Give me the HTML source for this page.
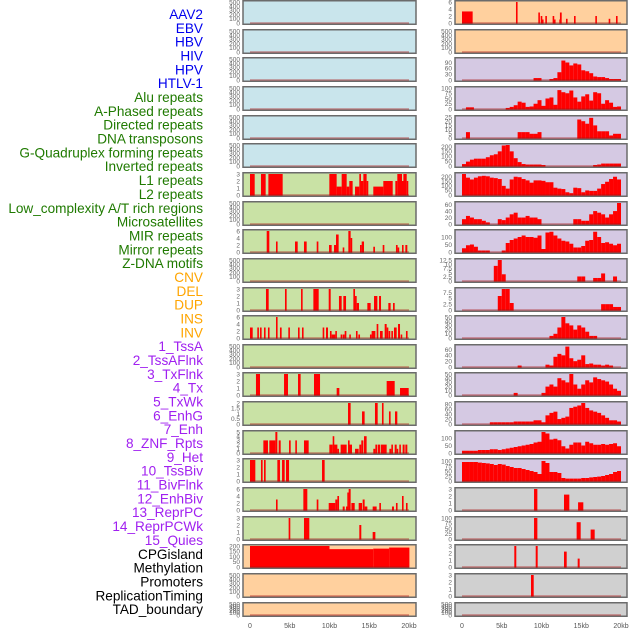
<!DOCTYPE html>
<html><head><meta charset="utf-8">
<style>
html,body{margin:0;padding:0;background:#fff;}
#wrap{position:relative;width:630px;height:630px;overflow:hidden;}
svg{position:absolute;left:0;top:0;}
</style></head>
<body>
<div id="wrap">
<svg id="chart" width="630" height="630"></svg>
</div>
<script>
// ---------- labels ----------
const trackLabels = ["AAV2","EBV","HBV","HIV","HPV","HTLV-1","Alu repeats","A-Phased repeats","Directed repeats","DNA transposons","G-Quadruplex forming repeats","Inverted repeats","L1 repeats","L2 repeats","Low_complexity A/T rich regions","Microsatellites","MIR repeats","Mirror repeats","Z-DNA motifs","CNV","DEL","DUP","INS","INV","1_TssA","2_TssAFlnk","3_TxFlnk","4_Tx","5_TxWk","6_EnhG","7_Enh","8_ZNF_Rpts","9_Het","10_TssBiv","11_BivFlnk","12_EnhBiv","13_ReprPC","14_ReprPCWk","15_Quies","CPGisland","Methylation","Promoters","ReplicationTiming","TAD_boundary"];
const labelGroups = ["virus","virus","virus","virus","virus","virus","repeat","repeat","repeat","repeat","repeat","repeat","repeat","repeat","repeat","repeat","repeat","repeat","repeat","sv","sv","sv","sv","sv","chrom","chrom","chrom","chrom","chrom","chrom","chrom","chrom","chrom","chrom","chrom","chrom","chrom","chrom","chrom","other","other","other","other","other"];
const xTickKb = [0,5,10,15,20];
const xTickLabels = ["0","5kb","10kb","15kb","20kb"];

// ---------- axis maxima & ticks per panel (left col rows 1..22, right col rows 1..22) ----------
const T500 = [0,100,200,300,400,500];
const leftTicks = [T500,T500,T500,T500,T500,T500,[0,1,2,3],T500,[0,2,4,6],T500,[0,1,2,3],[0,2,4,6],T500,[0,1,2,3],[0,0.5,1,1.5,2],[0,1,2,3,4,5],[0,1,2,3],[0,2,4,6],[0,1,2,3],[0,50,100,150,200],T500,T500];
const leftMax = [500,500,500,500,500,500,3,500,6,500,3,6,500,3,2,5,3,6,3,200,500,500];
const rightTicks = [[0,2,4,6],T500,[0,30,60,90],[0,25,50,75,100],[0,5,10,15,20,25],[0,50,100,150,200],[0,50,100,150,200],[0,20,40,60],[0,50,100],[0,2.5,5,7.5,10,12.5],[0,2.5,5,7.5],[0,10,20,30,40,50],[0,20,40,60],[0,10,20,30,40,50],[0,20,40,60,80],[0,50,100],[0,25,50,75,100],[0,1,2,3],[0,25,50,75,100],[0,1,2,3],[0,1,2,3],T500];
const rightMax = [6,500,108,100,25,215,230,65,140,12.5,9,50,72,50,85,140,105,3,100,3,3,500];

// ---------- segment data [startKb, endKb, value] ----------
const leftSegs = {
 7: [[0,0.59,3],[1.38,1.97,3],[2.31,4.11,3],[9.98,10.9,3],[10.9,11.53,1.2],[11.53,12.16,3],[12.16,12.49,1.2],[12.49,12.91,2],[13.21,13.75,1.2],[13.75,13.96,3],[13.96,14.26,2],[14.26,14.67,3],[14.67,14.88,2],[15.51,16.77,1.2],[16.77,17.95,2],[18.28,18.53,2],[18.53,19.12,3],[19.12,19.29,2],[19.29,19.71,3],[19.71,19.83,2]],
 9: [[2.10,2.43,6],[3.27,3.44,3],[5.66,6.00,3],[6.79,7.13,3],[8.39,8.60,3],[9.94,10.27,2],[10.57,10.82,2],[10.82,11.15,5],[11.66,11.82,1.3],[12.37,12.66,6],[12.66,12.79,4],[13.84,14.05,2],[14.05,14.34,3],[15.51,15.72,1.5],[16.69,16.90,2],[18.36,18.57,2],[18.57,18.70,1.3],[19.12,19.29,2],[19.54,19.79,2]],
 11: [[2.01,2.35,3],[4.40,4.61,3],[6.42,6.62,3],[7.97,8.64,3],[9.90,10.15,3],[11.19,11.53,2],[11.74,12.08,2],[13.00,13.21,3],[13.21,13.42,2],[13.42,13.71,1],[14.76,15.18,1],[15.60,16.02,2],[16.23,16.48,2],[17.40,17.69,1],[17.99,18.20,1]],
 12: [[0,0.34,3],[0.92,1.09,3],[1.26,1.43,3],[1.76,1.93,3],[2.26,2.43,3],[3.27,3.40,6],[3.77,3.98,3],[4.82,4.99,3],[6.04,6.21,3],[6.54,6.67,3],[9.14,9.31,3],[9.56,9.81,3],[10.06,10.23,2],[10.27,10.73,1],[10.73,10.90,2],[11.40,11.57,1],[11.66,11.91,1],[11.91,12.12,2],[12.49,12.66,1],[13.33,13.50,2],[13.63,13.84,1],[15.09,15.30,1],[15.30,15.77,2],[15.93,16.14,4],[16.35,16.69,2],[16.94,17.19,4],[17.19,17.40,3],[17.44,17.61,2],[17.78,17.95,2],[18.11,18.45,3],[18.62,18.87,4],[18.95,19.12,1],[19.62,19.79,2]],
 14: [[0.75,1.26,3],[4.28,4.78,3],[6.04,6.37,3],[8.05,8.81,3],[10.90,11.24,1],[17.19,18.20,2],[18.87,19.96,1]],
 15: [[12.33,12.66,2],[14.09,14.42,1.2],[15.72,16.06,2],[16.60,16.77,2],[17.48,17.69,1.2],[18.24,18.53,1.2]],
 16: [[1.68,2.26,3],[2.43,3.19,3],[3.19,3.44,5],[3.61,3.86,3],[4.91,5.12,3],[5.70,5.87,3],[6.79,7.38,3],[9.98,10.40,2],[10.40,10.57,4],[10.57,10.99,2],[10.99,11.15,1],[11.40,12.16,2],[12.33,12.49,3],[12.49,12.83,2],[13.21,13.67,1],[13.75,14.00,2],[14.00,14.26,3],[14.34,14.67,4],[15.51,15.77,1],[15.77,16.02,2],[16.10,16.35,2],[16.44,17.19,2],[17.53,17.78,1],[17.78,17.95,2],[18.20,18.45,2],[18.45,18.62,1],[18.78,18.95,2],[19.20,19.45,2],[19.54,19.79,2]],
 17: [[0,0.67,3],[1.38,1.59,3],[1.76,1.97,3],[3.44,3.77,3],[4.03,4.36,3],[4.53,4.91,3],[9.06,9.39,3]],
 18: [[3.27,3.44,3],[6.71,7.21,6],[8.39,8.60,3],[9.90,10.73,2],[10.73,10.99,3],[10.99,11.20,4],[11.66,11.91,1],[12.08,12.24,1],[12.24,12.41,5],[12.41,12.66,6],[12.75,13.17,2],[13.67,14.09,2],[14.17,14.42,3],[14.42,14.76,1],[15.43,15.93,1],[16.27,16.44,2],[17.86,18.11,1],[18.36,18.53,2],[19.12,19.29,4],[19.62,19.79,2]],
 19: [[4.86,5.07,3],[6.79,7.46,3],[13.75,14.00,2],[15.43,15.77,1]],
 20: [[0,10,200],[10,15.5,170],[15.5,17.5,175],[17.5,20.05,185]]
};
const rightSegs = {
 1: [[0,1.34,3.3],[6.79,6.96,6],[9.6,9.73,3],[9.9,10.06,2],[10.06,10.19,1],[10.48,10.65,2],[11.4,11.57,2],[11.57,11.74,1],[12.24,12.32,1],[12.32,12.54,3],[13.08,13.25,1.2],[14.09,14.26,2],[16.77,16.94,2],[18.45,18.62,1.2],[19.37,19.54,2]],
 18: [[9.06,9.48,3],[12.83,13.5,2.2],[14.6,15.26,1.1]],
 19: [[9.06,9.48,100],[14.42,14.93,80],[16.18,16.69,45]],
 20: [[6.58,6.83,3],[9.27,9.52,3],[12.83,13.17,2.2],[14.55,14.8,1.2]],
 21: [[8.68,9.02,3]]
};

// ---------- binned data (0.5 kb bins, 40 per track) ----------
const right3Bins  = [0,0,0,0,0,0,0,0,0,0,0,0,0,0,0,0,0,0,10,10,0,0,5,10,40,100,90,75,85,80,50,45,35,18,15,15,10,5,5,5];
const right4Bins  = [0,8,8,0,0,0,0,0,0,0,0,5,10,18,35,30,10,12,25,42,15,50,55,20,90,80,75,88,55,35,60,70,40,80,75,25,42,30,10,12];
const right5Bins  = [0,7,0,0,0,0,0,0,0,0,0,0,0,0,7,7,7,5,5,7,0,0,0,0,0,0,0,0,0,22,20,17,24,15,8,8,8,3,5,5];
const right6Bins  = [20,45,65,75,75,75,90,110,120,150,210,215,150,80,40,20,15,15,15,15,10,0,0,0,0,0,0,0,0,0,0,0,0,10,15,25,25,25,25,25];
const right7Bins  = [230,190,170,190,205,210,205,190,185,175,100,70,170,200,195,175,160,135,160,160,155,140,140,80,70,65,30,20,80,75,30,50,45,45,70,120,145,175,200,170];
const right8Bins  = [15,25,20,15,15,10,5,0,0,15,12,20,30,35,20,20,25,20,20,15,0,0,0,0,0,0,0,0,15,15,10,10,30,40,35,30,20,30,40,65];
const right9Bins  = [25,45,50,35,10,10,10,0,0,0,10,60,80,90,100,110,100,100,95,110,20,130,135,110,90,75,70,55,30,30,40,75,80,135,100,60,65,55,45,55];
const right10Bins = [0,0,0,0,0,0,0,0,9,12.5,4,0,0,0,0,0,0,0,0,0,0,0,0,0,0,0,0,0,0,2.7,2.7,0,0,1.8,1.8,4.5,0,0,2.7,0];
const right11Bins = [0,0,0,0,0,0,0,0,0,6,9,9,3,0,0,0,0,0,0,0,0,0,0,0,0,0,0,0,0,0,0,0,0,0,0,2.5,2.5,2.5,1.3,1.3];
const right12Bins = [0,0,0,0,0,0,0,0,0,0,0,0,0,0,0,0,0,0,0,0,0,0,5,10,25,50,35,30,20,30,25,15,5,5,0,0,0,0,0,0];
const right13Bins = [0,0,0,0,0,0,0,0,0,0,0,0,0,0,5,0,0,0,0,0,0,8,5,35,45,40,70,30,20,25,40,10,12,8,8,5,8,5,0,0];
const right14Bins = [0,0,0,0,0,0,0,0,0,0,0,0,0,5,0,0,0,0,0,0,5,20,25,20,40,35,30,50,25,15,25,35,30,42,38,35,32,25,15,10];
const right15Bins = [0,0,0,0,0,0,0,7,7,7,7,7,7,10,10,10,10,10,15,15,7,35,45,50,20,25,30,65,70,75,85,65,55,50,45,35,25,15,15,10];
const right16Bins = [15,15,15,15,20,20,20,25,25,20,25,30,35,40,45,50,55,60,70,75,140,130,90,95,85,45,30,55,70,70,50,75,65,55,55,60,55,60,65,45];
const right17Bins = [95,95,95,95,92,90,88,85,80,85,82,75,70,65,65,60,55,50,45,35,100,90,45,45,40,15,12,12,12,12,15,15,18,20,22,25,30,35,45,50];
const rightBins = {3:right3Bins,4:right4Bins,5:right5Bins,6:right6Bins,7:right7Bins,8:right8Bins,9:right9Bins,10:right10Bins,11:right11Bins,12:right12Bins,13:right13Bins,14:right14Bins,15:right15Bins,16:right16Bins,17:right17Bins};

// ---------- drawing ----------
const NS = "http://www.w3.org/2000/svg";
const svg = document.getElementById("chart");
function mk(tag, attrs, parent){ const e=document.createElementNS(NS,tag); for(const k in attrs) e.setAttribute(k,attrs[k]); (parent||svg).appendChild(e); return e; }

const labelColor = {virus:"#0000ee", repeat:"#1f7a00", sv:"#ffa500", chrom:"#a020f0", other:"#000000"};
trackLabels.forEach((t,i)=>{
  const el = mk("text",{x:203,y:19+i*13.84,"text-anchor":"end","font-family":"Liberation Sans, sans-serif","font-size":"13.6",fill:labelColor[labelGroups[i]]});
  el.textContent = t;
  
  
});

const colFrameX = [243,455];
const colFrameW = [173,172];
const colX0 = [250,462];
const pxPerKb = 7.95;
function xScale(col,kb){ return colX0[col] + kb*pxPerKb; }
function rowTop(r){ return Math.round(r*28.65); }
function rowH(r){ return r===21 ? 15 : 25; }

function bgFor(col,r){
  if(col===0){ if(r<6) return "#c9e5ec"; if(r<19) return "#c9e2a5"; return "#ffd09e"; }
  if(r<2) return "#ffd09e"; if(r<17) return "#d5c9e3"; return "#d0d0d0";
}

function drawPanel(col, r, ticks, maxV, segs){
  const g = mk("g",{});
  
  
  const top=rowTop(r), h=rowH(r);
  const fx=colFrameX[col], fw=colFrameW[col];
  const bg = mk("rect",{x:fx,y:top+0.75,width:fw,height:h-1.5,fill:bgFor(col,r),stroke:"#6b6b6b","stroke-width":1.5},g);
  
  
  const y0 = top+h-2, y1 = top+2;
  const yScale = v => y0 - (v/maxV)*(y0-y1);
  ticks.forEach(tv=>{
    const tt = mk("text",{x:fx-3,y:yScale(tv)+2.3,"text-anchor":"end","font-family":"Liberation Sans, sans-serif","font-size":"6.5",fill:"#666"},g);
    tt.textContent = String(tv);
    
    
  });
  segs.forEach(s=>{
    const xa=xScale(col,s[0]), xb=xScale(col,s[1]);
    const w=Math.max(1.6,xb-xa);
    const yt=yScale(s[2]);
    const b = mk("rect",{x:xa,y:yt,width:w,height:Math.max(0,y0-yt+0.5),fill:"#ff0000"},g);
    
    
  });
  const base = mk("line",{x1:xScale(col,0),x2:xScale(col,20),y1:y0,y2:y0,stroke:"rgba(170,20,20,0.45)","stroke-width":1.6},g);
  
  
}

function binsToSegs(bins){
  const out=[];
  bins.forEach((v,i)=>{ if(v>0) out.push([i*0.5,(i+1)*0.5,v]); });
  return out;
}

for(let r=0;r<22;r++){
  drawPanel(0, r, leftTicks[r], leftMax[r], leftSegs[r+1]||[]);
  const rs = rightBins[r+1] ? binsToSegs(rightBins[r+1]) : (rightSegs[r+1]||[]);
  drawPanel(1, r, rightTicks[r], rightMax[r], rs);
}

// x-axis tick labels
[0,1].forEach(col=>{
  xTickKb.forEach((kb,i)=>{
    const t = mk("text",{x:xScale(col,kb),y:628,"text-anchor":"middle","font-family":"Liberation Sans, sans-serif","font-size":"7",fill:"#555"});
    t.textContent = xTickLabels[i];
    
    
  });
});
</script>
</body></html>
